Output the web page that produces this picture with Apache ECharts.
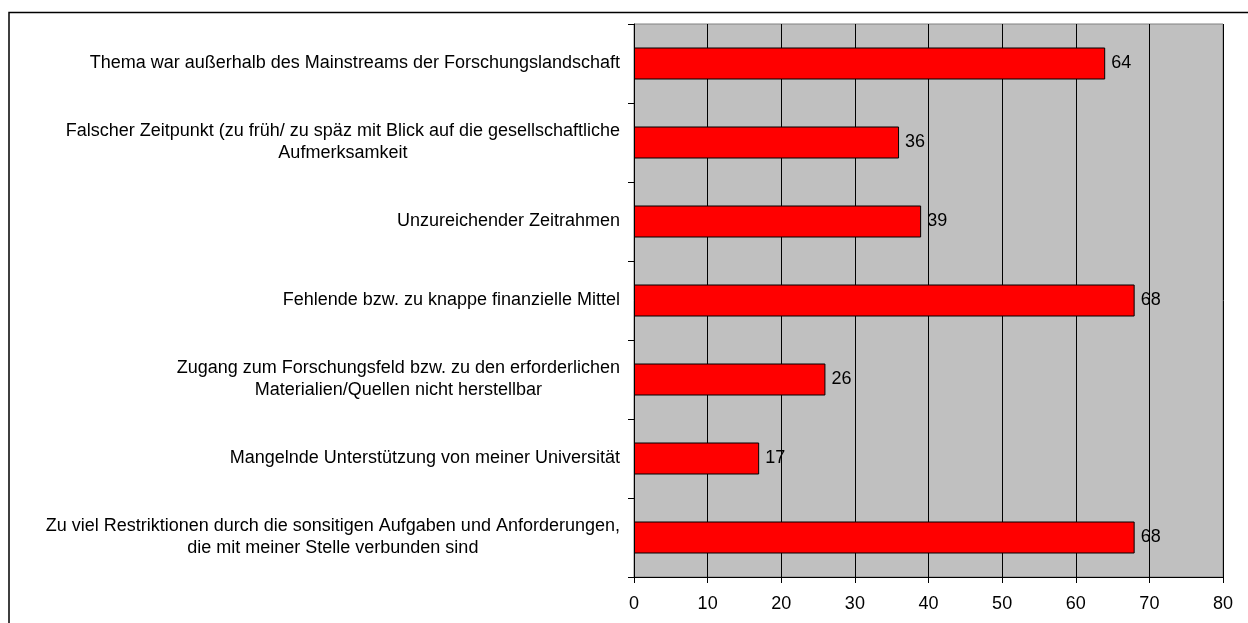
<!DOCTYPE html>
<html>
<head>
<meta charset="utf-8">
<script src="https://cdn.jsdelivr.net/npm/echarts@6/dist/echarts.min.js"></script>
<style>
  html, body { margin: 0; padding: 0; background: #fff; }
  #chart { width: 1248px; height: 623px; }
</style>
</head>
<body>
<div id="chart"></div>
<script>
// Gründe (von oben nach unten)
var categories = [
  'Thema war außerhalb des Mainstreams der Forschungslandschaft',
  'Falscher Zeitpunkt (zu früh/ zu späz mit Blick auf die gesellschaftliche\nAufmerksamkeit',
  'Unzureichender Zeitrahmen',
  'Fehlende bzw. zu knappe finanzielle Mittel',
  'Zugang zum Forschungsfeld bzw. zu den erforderlichen\nMaterialien/Quellen nicht herstellbar',
  'Mangelnde Unterstützung von meiner Universität',
  'Zu viel Restriktionen durch die sonsitigen Aufgaben und Anforderungen,\ndie mit meiner Stelle verbunden sind'
];
var values = [64, 36, 39, 68, 26, 17, 68];
var xTicks = [0, 80, 10]; // min, max, interval

var chartDom = document.getElementById('chart');
var myChart = echarts.init(chartDom);
var option;
var font = 'Arial, "Liberation Sans", sans-serif';

option = {
  animation: false,
  grid: {
    left: 634,
    right: 25,
    top: 24,
    bottom: 46,
    show: true,
    backgroundColor: '#C0C0C0',
    borderColor: '#808080',
    borderWidth: 1
  },
  graphic: [
    {
      type: 'rect',
      silent: true,
      shape: { x: 9, y: 12.5, width: 1400, height: 800 },
      style: { fill: 'none', stroke: '#000', lineWidth: 1.5 }
    }
  ],
  xAxis: {
    type: 'value',
    min: xTicks[0],
    max: xTicks[1],
    interval: xTicks[2],
    axisLine: { show: true, lineStyle: { color: '#000', width: 1 } },
    axisTick: { show: true, length: 6, lineStyle: { color: '#000' } },
    axisLabel: { color: '#000', fontSize: 18, fontFamily: font, margin: 18 },
    splitLine: { show: true, lineStyle: { color: '#000', width: 1 } }
  },
  yAxis: {
    type: 'category',
    inverse: true,
    data: categories,
    axisLine: { show: true, lineStyle: { color: '#000', width: 1 } },
    axisTick: { show: true, length: 6, lineStyle: { color: '#000' } },
    axisLabel: {
      color: '#000',
      fontSize: 18,
      fontFamily: font,
      margin: 14,
      lineHeight: 22,
      formatter: function (v) {
        return v.split('\n').map(function (l) { return '{c|' + l + '}'; }).join('\n');
      },
      rich: {
        c: { align: 'center', fontSize: 18, fontFamily: font, color: '#000', lineHeight: 22 }
      }
    }
  },
  series: [
    {
      type: 'bar',
      data: values,
      barWidth: 32,
      itemStyle: { color: '#FF0000', borderColor: '#000', borderWidth: 1 },
      label: {
        show: true,
        position: 'right',
        distance: 6,
        color: '#000',
        fontSize: 18,
        fontFamily: font
      }
    }
  ]
};

option && myChart.setOption(option);
</script>
</body>
</html>
